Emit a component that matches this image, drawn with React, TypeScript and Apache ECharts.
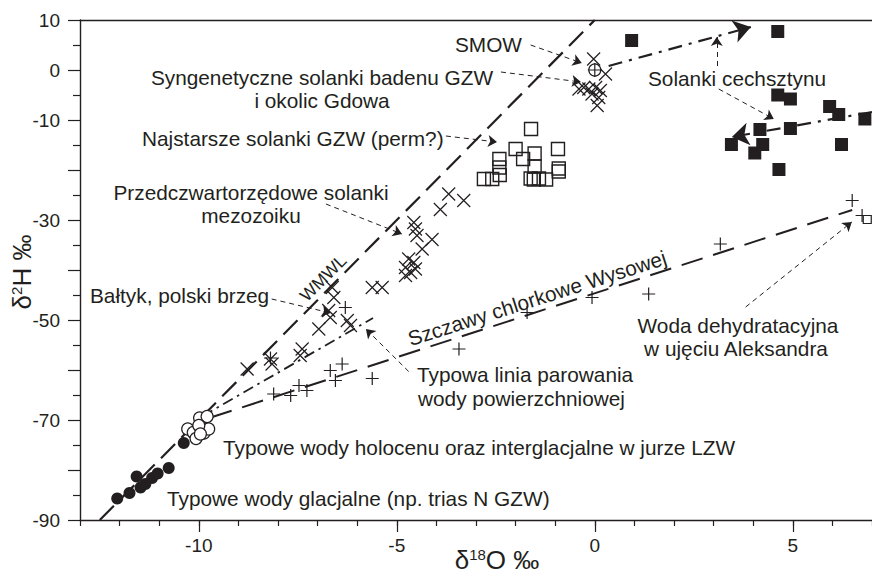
import React, { useEffect, useRef } from 'react';
import * as echarts from 'echarts';

const FONT = '"Liberation Sans", Arial, Helvetica, sans-serif';
const INK = '#231f20';
const TEXT_SIZE = 20.8;

// ---- axes ----
const X_MIN = -13;
const X_MAX = 7;
const Y_MIN = -90;
const Y_MAX = 10;
const xLabelValues = [-10, -5, 0, 5];
const yLabelValues = [10, 0, -10, -30, -50, -70, -90];

// ---- data [δ18O, δ2H] ----
const glacialWaters = [
  [-12.06, -85.7], [-11.75, -84.6], [-11.57, -81.3], [-11.47, -83.5], [-11.35, -82.8],
  [-11.18, -81.6], [-11.04, -80.7], [-10.76, -79.6], [-10.38, -74.6],
];
const holoceneWaters = [
  [-10.28, -71.8], [-10.14, -72.5], [-10.07, -73.7], [-9.98, -69.6], [-9.97, -71.3],
  [-9.87, -72.6], [-9.79, -69.3], [-9.75, -71.8], [-10.0, -71.1], [-9.96, -72.8],
];
const oldestBrines = [
  [-1.61, -11.8], [-2.0, -15.8], [-1.52, -16.7], [-0.93, -15.8], [-2.41, -17.8],
  [-1.81, -17.8], [-1.52, -19.3], [-0.91, -19.7], [-2.41, -19.5], [-2.4, -21.0],
  [-0.91, -20.3], [-2.8, -21.8], [-2.59, -21.8], [-1.62, -21.7], [-1.54, -21.9],
  [-1.23, -21.9], [-1.41, -21.7],
];
const zechsteinBrines = [
  [0.93, 5.9], [4.62, 7.7], [4.62, -5.0], [4.94, -5.8], [5.93, -7.3], [6.16, -8.9],
  [6.82, -9.8], [4.94, -11.7], [4.17, -11.9], [4.24, -14.9], [3.45, -14.9],
  [4.04, -16.6], [6.23, -14.9], [4.65, -19.9],
];
const badenianBrines = [
  [-0.4, -3.8], [-0.28, -3.5], [-0.15, -3.8], [0.02, -3.5], [0.14, -4.1],
  [-0.07, -4.8], [0.1, -5.5], [0.06, -7.1], [-0.03, 2.2], [0.27, -0.8],
];
const mesozoicBrines = [
  [-3.69, -24.8], [-3.31, -26.1], [-3.9, -27.9], [-4.57, -30.5], [-4.53, -31.8],
  [-4.49, -33.1], [-4.11, -33.9], [-4.36, -35.8], [-4.7, -37.8], [-4.57, -38.5],
  [-4.78, -39.5], [-4.53, -39.8], [-4.78, -41.1], [-4.65, -40.5], [-5.37, -43.5],
  [-5.62, -43.5],
];
const balticCrosses = [
  [-6.63, -43.5], [-6.59, -45.5], [-6.72, -48.1], [-6.68, -49.5], [-6.97, -51.8],
  [-6.25, -50.1], [-6.17, -51.1], [-7.39, -55.8], [-7.44, -57.1], [-8.19, -57.8],
  [-8.15, -58.8], [-8.78, -59.8],
];
const balticPlus = [[-6.3, -47.5]];
const wysowaWaters = [
  [-6.68, -60.1], [-6.38, -58.8], [-6.55, -62.1], [-5.62, -61.7], [-7.47, -63.1],
  [-7.27, -64.1], [-7.68, -65.1], [-8.11, -64.8], [-8.19, -57.6], [-3.43, -55.8],
  [-1.71, -48.5], [-0.07, -45.5], [1.36, -44.8], [3.17, -34.8], [6.5, -26.1],
  [6.75, -29.1],
];
const dehydrationSquare = [[6.88, -29.9]];
const smow = [[0, 0]];

// ---- reference lines ----
const wmwlLine = [[-12.5, -90], [0, 10]];
const evaporationLine = [[-9.9, -69.2], [-5.6, -49.6]];
const wysowaLine = [[-9.7, -69.5], [6.5, -28.0]];
const zechsteinUpper = [[0.35, 0.8], [3.94, 8.6]];
const zechsteinLower = [[7.0, -8.4], [3.46, -13.4]];

// ---- annotation pointers ----
const pointerArrows = [
  [[-1.62, 5.0], [-0.33, 1.4]],
  [[-2.37, -0.4], [-0.35, -2.4]],
  [[-3.76, -13.2], [-2.47, -14.4]],
  [[-6.79, -26.8], [-4.87, -32.8]],
  [[-8.16, -45.8], [-6.67, -48.6]],
  [[-4.7, -60.3], [-5.78, -51.8]],
  [[3.81, -47.4], [6.49, -30.4]],
  [[3.08, 0.8], [3.08, 6.6]],
  [[3.13, -3.8], [4.52, -9.8]],
];

const CROSS = 'path://M0,0L10,10M10,0L0,10';
const PLUS = 'path://M5,0L5,10M0,5L10,5';

function scatter(name: string, data: number[][], symbol: string, size: number, fill: string, border = 1.2) {
  return {
    name,
    type: 'scatter',
    xAxisIndex: 0,
    yAxisIndex: 0,
    data,
    symbol,
    symbolSize: size,
    itemStyle: { color: fill, borderColor: INK, borderWidth: border, opacity: 1 },
    z: 5,
  };
}

function refLine(name: string, data: number[][], dash: number[], width: number) {
  return {
    name,
    type: 'line',
    xAxisIndex: 0,
    yAxisIndex: 0,
    data,
    symbol: 'none',
    lineStyle: { color: INK, width, type: dash },
    z: 3,
  };
}

function txt(text: string, x: number, y: number, align = 'left', size = TEXT_SIZE, rotation = 0) {
  return {
    type: 'text',
    x,
    y,
    rotation,
    style: {
      text,
      fill: INK,
      font: `${size}px ${FONT}`,
      textAlign: align,
      textVerticalAlign: 'middle',
    },
    z: 10,
  };
}

export default function App() {
  const ref = useRef<HTMLDivElement>(null);
  useEffect(() => {
    document.body.style.margin = '0';
    const chart = echarts.init(ref.current!, null, { renderer: 'svg' });
    const axisCommon = {
      type: 'value',
      min: X_MIN,
      max: X_MAX,
      splitLine: { show: false },
    };
    const richTitle = {
      a: { fontSize: 26, fontFamily: FONT, color: INK, verticalAlign: 'bottom', lineHeight: 26 },
      s: { fontSize: 15, fontFamily: FONT, color: INK, verticalAlign: 'top', lineHeight: 26 },
    };
    chart.setOption({
      animation: false,
      backgroundColor: '#ffffff',
      grid: { left: 80, right: 0, top: 20, bottom: 56, containLabel: false },
      xAxis: [
        {
          ...axisCommon,
          position: 'bottom',
          interval: 1,
          axisLine: { show: true, onZero: false, lineStyle: { color: INK, width: 1.4 } },
          axisTick: { show: true, length: 6, lineStyle: { color: INK, width: 1.2 } },
          axisLabel: {
            customValues: xLabelValues,
            color: INK,
            fontSize: 19,
            fontFamily: FONT,
            margin: 16,
          },
        },
        {
          ...axisCommon,
          position: 'bottom',
          axisLine: { show: false, onZero: false },
          axisTick: { show: true, customValues: xLabelValues, length: 12, lineStyle: { color: INK, width: 1.2 } },
          axisLabel: { show: false },
        },
        {
          ...axisCommon,
          position: 'top',
          axisLine: { show: true, onZero: false, lineStyle: { color: INK, width: 1.4 } },
          axisTick: { show: false },
          axisLabel: { show: false },
        },
      ],
      yAxis: [
        {
          type: 'value',
          position: 'left',
          min: Y_MIN,
          max: Y_MAX,
          interval: 10,
          splitLine: { show: false },
          axisLine: { show: true, onZero: false, lineStyle: { color: INK, width: 1.4 } },
          axisTick: { show: true, length: 12, lineStyle: { color: INK, width: 1.2 } },
          minorTick: { show: true, splitNumber: 2, length: 7, lineStyle: { color: INK, width: 1.2 } },
          axisLabel: {
            customValues: yLabelValues,
            color: INK,
            fontSize: 19,
            fontFamily: FONT,
            margin: 20,
          },
        },
      ],
      series: [
        refLine('WMWL', wmwlLine, [20, 9], 2.2),
        refLine('Typowa linia parowania', evaporationLine, [11, 5, 2.5, 5], 1.8),
        refLine('Szczawy chlorkowe Wysowej', wysowaLine, [22, 11], 2),
        {
          name: 'Solanki cechsztynu trend',
          type: 'lines',
          coordinateSystem: 'cartesian2d',
          xAxisIndex: 0,
          yAxisIndex: 0,
          symbol: ['none', 'arrow'],
          symbolSize: 17,
          lineStyle: { color: INK, width: 2.2, type: [14, 7, 3, 7], opacity: 1 },
          data: [{ coords: zechsteinUpper }, { coords: zechsteinLower }],
          z: 4,
        },
        {
          name: 'pointers',
          type: 'lines',
          coordinateSystem: 'cartesian2d',
          xAxisIndex: 0,
          yAxisIndex: 0,
          symbol: ['none', 'arrow'],
          symbolSize: 9,
          lineStyle: { color: INK, width: 1, type: [5, 4], opacity: 1 },
          data: pointerArrows.map((c) => ({ coords: c })),
          z: 4,
        },
        scatter('Typowe wody glacjalne', glacialWaters, 'circle', 12, INK, 0),
        scatter('Typowe wody holocenu', holoceneWaters, 'circle', 12, '#ffffff', 1.2),
        scatter('Najstarsze solanki GZW', oldestBrines, 'rect', 13, 'rgba(255,255,255,0)', 1.4),
        scatter('Solanki cechsztynu', zechsteinBrines, 'rect', 13, INK, 0),
        scatter('Syngenetyczne solanki badenu', badenianBrines, CROSS, 13, 'rgba(0,0,0,0)', 1.2),
        scatter('Przedczwartorzędowe solanki mezozoiku', mesozoicBrines, CROSS, 13, 'rgba(0,0,0,0)', 1.2),
        scatter('Bałtyk', balticCrosses, CROSS, 13, 'rgba(0,0,0,0)', 1.2),
        scatter('Bałtyk +', balticPlus, PLUS, 13, 'rgba(0,0,0,0)', 1.2),
        scatter('Szczawy chlorkowe Wysowej', wysowaWaters, PLUS, 13, 'rgba(0,0,0,0)', 1.2),
        scatter('Woda dehydratacyjna', dehydrationSquare, 'rect', 8, 'rgba(255,255,255,0)', 1.2),
        scatter('SMOW', smow, 'circle', 12, '#ffffff', 1.2),
        scatter('SMOW +', smow, PLUS, 14, 'rgba(0,0,0,0)', 1.2),
      ],
      graphic: [
        txt('SMOW', 455, 44),
        txt('Syngenetyczne solanki badenu GZW', 322, 77, 'center'),
        txt('i okolic Gdowa', 322, 100, 'center'),
        txt('Najstarsze solanki GZW (perm?)', 142, 138),
        txt('Przedczwartorzędowe solanki', 251, 192, 'center'),
        txt('mezozoiku', 251, 215, 'center'),
        txt('Bałtyk, polski brzeg', 90, 295),
        txt('Solanki cechsztynu', 648, 78),
        txt('Typowa linia parowania', 417, 374),
        txt('wody powierzchniowej', 418, 398),
        txt('Typowe wody holocenu oraz interglacjalne w jurze LZW', 223, 447),
        txt('Typowe wody glacjalne (np. trias N GZW)', 167, 498),
        txt('Woda dehydratacyjna', 738, 325, 'center'),
        txt('w ujęciu Aleksandra', 736, 348, 'center'),
        txt('WMWL', 323, 278, 'center', 17.5, Math.PI / 4),
        txt('Szczawy chlorkowe Wysowej', 537, 298, 'center', TEXT_SIZE, 0.31),
        {
          type: 'text',
          x: 497,
          y: 560,
          style: {
            text: '{a|δ}{s|18}{a|O ‰}',
            fill: INK,
            textAlign: 'center',
            textVerticalAlign: 'middle',
            rich: richTitle,
          },
          z: 10,
        },
        {
          type: 'text',
          x: 22,
          y: 272,
          rotation: Math.PI / 2,
          style: {
            text: '{a|δ}{s|2}{a|H ‰}',
            fill: INK,
            textAlign: 'center',
            textVerticalAlign: 'middle',
            rich: richTitle,
          },
          z: 10,
        },
      ],
    });
    return () => chart.dispose();
  }, []);
  return <div ref={ref} style={{ width: 872, height: 576 }} />;
}
